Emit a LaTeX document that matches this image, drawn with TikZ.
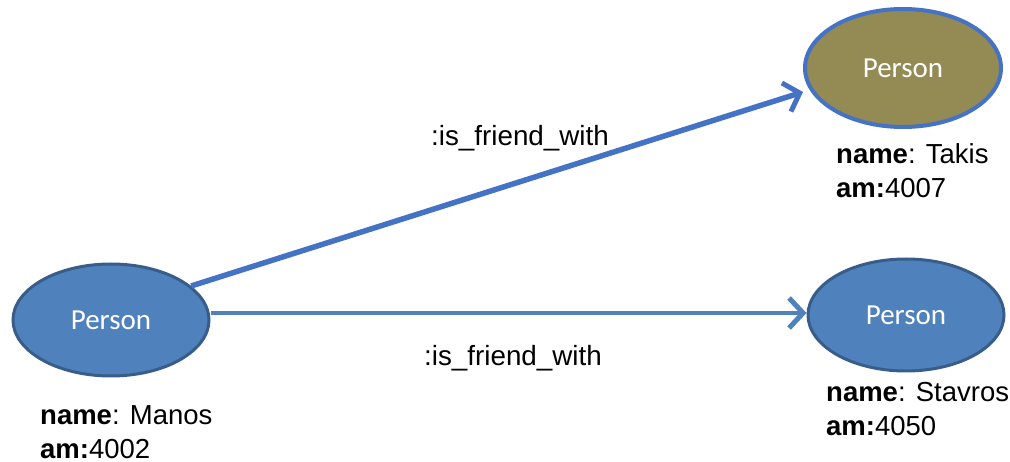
\documentclass[tikz,border=0pt]{standalone}
\usepackage{fontspec}
\setmainfont{Liberation Sans}
\newfontfamily\calfont{Carlito}
\usetikzlibrary{shapes.geometric,arrows.meta}
\definecolor{nodeblue}{HTML}{4F81BD}
\definecolor{nodeedge}{HTML}{385D8A}
\definecolor{linkblue}{HTML}{4472C4}
\definecolor{olive}{HTML}{948A54}
\tikzset{
  person/.style={ellipse, minimum width=196pt, minimum height=112pt, fill=nodeblue, draw=nodeedge, line width=3pt, text=white, font=\calfont\fontsize{29}{32}\selectfont, inner sep=0pt},
  prop/.style={anchor=north west, align=left, inner sep=0pt, font=\fontsize{27.5}{34}\selectfont},
  rel/.style={line width=5.5pt, draw=linkblue, -{Straight Barb[length=14pt,width=30pt,line width=5pt]}},
  rellabel/.style={inner sep=0pt, font=\fontsize{27.8}{30}\selectfont}
}
\begin{document}
\begin{tikzpicture}[x=1pt,y=-1pt]
\useasboundingbox (0,0) rectangle (1010,462);
\node[person] (manos) at (111,320) {Person};
\node[person, fill=olive, draw=linkblue, line width=4pt, minimum height=118pt] (takis) at (903,68) {Person};
\node[person] (stavros) at (906,315) {Person};
\node[prop] (pm) at (40,405) {\textbf{name}: Manos\\\textbf{am:}4002};
\node[prop] (pt) at (836,143) {\textbf{name}: Takis\\\textbf{am:}4007};
\node[prop] (ps) at (826,382) {\textbf{name}: Stavros\\\textbf{am:}4050};
\draw[rel] (manos.23) -- (takis.west |- 0,92) coordinate (tk);
\draw[rel, draw=nodeblue, line width=4.5pt] (manos.east |- 0,313) -- (stavros.west |- 0,313);
\node[rellabel] (l1) at (520,138) {:is\_friend\_with};
\node[rellabel] (l2) at (513,358) {:is\_friend\_with};
\end{tikzpicture}
\end{document}
